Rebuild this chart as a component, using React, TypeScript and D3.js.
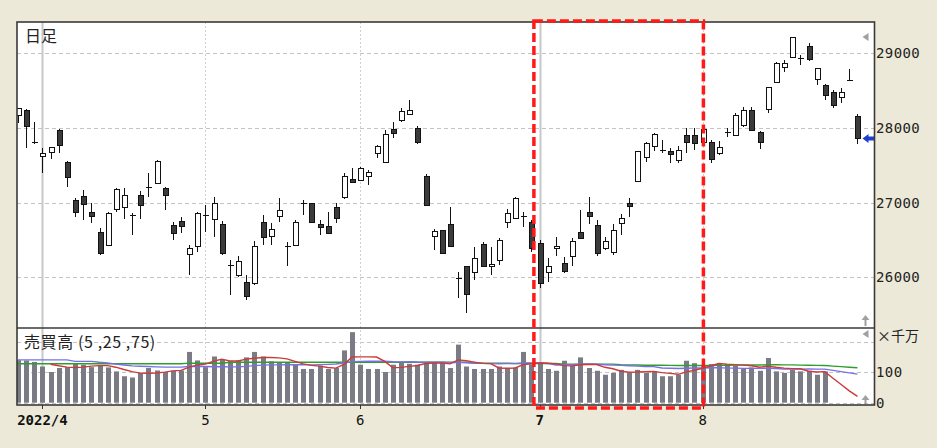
import React from "react";
import * as d3 from "d3";

// ---- data ----
const opens = [28170,28240,27810,27625,27680,27970,27540,27030,27095,26880,26610,26435,26910,26940,26830,27105,27215,27265,27195,26700,26755,26315,26425,26840,26780,26710,26170,26025,25940,25920,26745,26555,26820,26425,26435,27000,27000,26715,26690,26945,27080,27315,27305,27350,27660,27540,27985,28100,28185,28000,27360,26555,26635,26715,25985,26155,26075,26445,26145,26235,26745,26790,26815,26745,26455,26075,26390,26195,26290,26610,26880,26700,26390,26335,26725,26990,27295,27615,27765,27710,27690,27570,27905,27905,27815,27810,27660,27935,27905,28040,28240,27950,28250,28610,28820,28945,28935,29100,28650,28575,28485,28410,28645,28165];
const highs = [28270,28250,28080,27730,27745,27990,27560,27065,27170,27000,26660,26880,27195,27195,26860,27150,27400,27570,27210,26745,26805,26435,26880,26970,27080,26750,26235,26285,26030,26480,26835,26725,27060,26470,26770,27035,27000,26770,26880,27000,27400,27460,27480,27440,27775,27975,28085,28265,28375,28030,27390,26645,26635,26945,26065,26155,26405,26475,26405,26525,26910,27080,26880,26770,26500,26255,26545,26275,26525,26895,27070,26770,26535,26715,26850,27060,27685,27815,27935,27840,27730,27760,28005,27995,28000,27840,27825,27995,28200,28275,28275,27965,28555,28890,28910,29220,28975,29135,28805,28590,28510,28530,28785,28185];
const lows = [28070,27730,27790,27400,27580,27660,27210,26810,26770,26730,26300,26435,26880,26780,26570,26780,27075,27250,26900,26500,26590,26030,26345,26610,26535,26300,25765,26010,25700,25900,26435,26435,26745,26145,26435,26835,26745,26570,26590,26725,27050,27260,27290,27240,27595,27530,27870,28085,28175,27785,26960,26360,26320,26425,25720,25520,25965,26150,26030,26165,26655,26790,26680,26345,25855,25940,26285,26055,26145,26525,26715,26290,26365,26300,26565,26805,27295,27550,27690,27670,27535,27530,27660,27705,27800,27530,27640,27875,27905,28015,27965,27715,28195,28600,28755,28935,28845,28900,28575,28375,28265,28340,28640,27785];
const closes = [28270,28020,27800,27665,27745,27770,27340,26880,26980,26825,26320,26855,27180,27105,26820,26970,27205,27560,27100,26590,26690,26390,26860,26830,27000,26325,26165,26220,25750,26425,26545,26650,26900,26420,26735,27000,26745,26670,26590,26790,27360,27280,27460,27415,27760,27920,27930,28230,28240,27810,26970,26620,26325,26425,25980,25775,26255,26155,26180,26500,26860,27060,26810,26390,25920,26155,26425,26090,26485,26525,26815,26325,26485,26635,26790,26960,27685,27795,27920,27700,27650,27705,27810,27795,27990,27585,27740,27940,28175,28240,27975,27815,28545,28875,28875,29215,28930,28920,28800,28440,28310,28475,28640,27860];
const volumes = [140,139,134,119,101,114,117,128,125,117,123,116,103,87,83,98,114,106,101,105,106,167,139,117,152,141,136,139,149,167,152,136,133,133,125,111,111,122,111,114,172,232,125,111,111,101,125,133,128,125,133,133,133,114,191,119,111,111,111,119,114,116,167,125,130,111,105,138,122,149,114,105,92,98,108,98,108,98,103,87,87,92,138,130,120,127,130,127,122,112,116,105,147,103,98,108,103,105,92,103];
const ma25Early = [141,141,141,141,141,141,141,136,136,136,133,131,127,124,121,120,119,118,117,117,117,119,120,119];
const ma75Early = [128,128,128,128,128,128,128,128,128,128,128,128,128,128,128,128,128,128,128,128,128,130,130,130,130,130,133,133,133,133,133,133,133,133,133,133,133,133,133,133,133,133,133,133,133,133,133,133,133,133,133,133,133,133,133,133,130,130,130,130,130,129,129,129,129,129,129,127,127,127,127,127,127,127];
const priceTicks = [26000, 27000, 28000, 29000];
const priceTickLabels = ["26000", "27000", "28000", "29000"];
const volumeGrid = [0, 100, 200];
const volumeTickLabels = ["0", "100"];
const volumeTickValues = [0, 100];
const monthLabels = ["2022/4", "5", "6", "7", "8"];
const monthStartIdx = [3, 23, 42, 64, 84];
const quarterStart = [true, false, false, true, false];
const highlightRange = [63.3, 84.1];

// ---- layout ----
const W = 937, H = 448;
const L = 17, R = 874.5, T = 22, MID = 328, B = 405;

export default function App() {
  const n = opens.length;
  const x = d3.scaleLinear().domain([0, 103]).range([18, 857.45]);
  const y = d3.scaleLinear().domain([25321, 29419]).range([MID, T]);
  const yv = d3.scaleLinear().domain([0, 245.7]).range([402.7, MID]);

  const vol = (i: number) => (i >= 0 && i < volumes.length ? volumes[i] : 0);
  const ma = (w: number, i: number) => d3.sum(d3.range(i - w + 1, i + 1), vol) / w;

  const red: [number, number][] = [];
  const blue: [number, number][] = [];
  const green: [number, number][] = [];
  for (let i = 0; i < n; i++) {
    if (i >= 4) red.push([x(i), yv(ma(5, i))]);
    blue.push([x(i), yv(i < 24 ? ma25Early[i] : ma(25, i))]);
    green.push([x(i), yv(i < 74 ? ma75Early[i] : ma(75, i))]);
  }
  const line = d3.line();

  const px = (v: number) => Math.round(v) + 0.5;
  const lastY = y(closes[n - 1]);
  const arrowPath = `M${R - 12},${lastY} L${R - 6},${lastY - 4.5} L${R - 6},${lastY - 2} L${R},${lastY - 2} L${R},${lastY + 2} L${R - 6},${lastY + 2} L${R - 6},${lastY + 4.5} Z`;

  const mono = "'DejaVu Sans Mono', monospace";
  const cjk = "'Noto Sans CJK JP', sans-serif";

  return (
    <svg width={W} height={H} style={{ position: "absolute", left: 0, top: 0 }}>
      <defs>
        <clipPath id="plotClip">
          <rect x={L} y={T} width={R - L} height={B - T} />
        </clipPath>
      </defs>
      <rect x={0} y={0} width={W} height={H} fill="#ECE9D8" />
      <rect x={L} y={T} width={R - L} height={B - T} fill="#ffffff" />

      {/* horizontal grid */}
      {priceTicks.map((p) => (
        <line key={"pg" + p} x1={L} x2={R} y1={px(y(p))} y2={px(y(p))} stroke="#c4c4c4" strokeDasharray="4,3" />
      ))}
      {volumeGrid.map((v) => (
        <line key={"vg" + v} x1={L} x2={R} y1={px(yv(v))} y2={px(yv(v))} stroke="#c4c4c4" strokeDasharray="4,3" />
      ))}
      {/* month lines */}
      {monthStartIdx.map((m, k) => (
        <line key={"ml" + k} x1={px(x(m))} x2={px(x(m))} y1={T} y2={B}
          stroke={quarterStart[k] ? "#c8c8c8" : "#cfcfcf"}
          strokeWidth={quarterStart[k] ? 2 : 1}
          strokeDasharray={quarterStart[k] ? undefined : "2,2"} />
      ))}

      <g clipPath="url(#plotClip)">
        {/* volume bars */}
        {volumes.map((v, i) => (
          <rect key={"v" + i} x={Math.round(x(i)) - 2} y={yv(v)} width={5} height={yv(0) - yv(v)} fill="#7b7b86" />
        ))}
        <path d={line(green) || ""} fill="none" stroke="#2f9e2f" strokeWidth={1.4} />
        <path d={line(blue) || ""} fill="none" stroke="#7a70e6" strokeWidth={1.4} />
        <path d={line(red) || ""} fill="none" stroke="#cc3a3a" strokeWidth={1.4} />

        {/* candles */}
        {opens.map((o, i) => {
          const c = closes[i];
          const cx = px(x(i));
          const top = y(Math.max(o, c));
          const bot = y(Math.min(o, c));
          const up = c >= o;
          const doji = Math.abs(o - c) < 15;
          return (
            <g key={"c" + i} shapeRendering="crispEdges">
              <line x1={cx} x2={cx} y1={Math.round(y(highs[i]))} y2={Math.round(y(lows[i]))} stroke="#111" strokeWidth={1} />
              {doji ? (
                <line x1={cx - 3} x2={cx + 3} y1={px(top)} y2={px(top)} stroke="#111" strokeWidth={1.2} />
              ) : (
                <rect x={cx - 2.5} y={Math.round(top) + 0.5} width={5} height={Math.max(1, Math.round(bot) - Math.round(top))}
                  fill={up ? "#ffffff" : "#3b3b3b"} stroke="#111" strokeWidth={1} />
              )}
            </g>
          );
        })}
      </g>

      {/* scroll markers */}
      <path d={`M${R - 12},${T + 15} L${R - 6},${T + 11} L${R - 6},${T + 19} Z`} fill="#a0a0a0" />
      <path d={`M${R - 9},${MID - 13} L${R - 5},${MID - 8} L${R - 13},${MID - 8} Z M${R - 10},${MID - 8} h2 v6 h-2 Z`} fill="#a0a0a0" />
      <path d={`M${R - 12},${MID + 6} L${R - 6},${MID + 2} L${R - 6},${MID + 10} Z`} fill="#a0a0a0" />
      <path d={`M${R - 9},${B - 10} L${R - 5},${B - 5} L${R - 13},${B - 5} Z M${R - 10},${B - 5} h2 v4 h-2 Z`} fill="#a0a0a0" />

      {/* last price arrow */}
      <path d={arrowPath} fill="#1c3fd0" />

      {/* frame */}
      <rect x={L} y={T} width={R - L} height={B - T} fill="none" stroke="#3a3a3a" strokeWidth={1.6} />
      <line x1={L} x2={R} y1={MID} y2={MID} stroke="#3a3a3a" strokeWidth={1.4} />

      {/* month ticks + labels */}
      {monthStartIdx.map((m, k) => (
        <g key={"mt" + k}>
          <line x1={px(x(m))} x2={px(x(m))} y1={B} y2={B + 4} stroke="#333" />
          <text x={x(m)} y={425} textAnchor="middle" fontFamily={mono} fontSize={14}
            fontWeight={quarterStart[k] ? "bold" : "normal"} fill="#111">{monthLabels[k]}</text>
        </g>
      ))}

      {/* price labels */}
      {priceTicks.map((p, k) => (
        <text key={"pl" + p} x={876} y={y(p) + 5} fontFamily={mono} fontSize={14} fill="#222" letterSpacing={0.4}>{priceTickLabels[k]}</text>
      ))}
      {/* volume labels */}
      <text x={877} y={341} fontFamily={cjk} fontSize={14} fill="#222">×千万</text>
      {volumeTickValues.map((v, k) => (
        <text key={"vl" + v} x={876} y={yv(v) + 5} fontFamily={mono} fontSize={14} fill="#222" letterSpacing={0.4}>{volumeTickLabels[k]}</text>
      ))}

      {/* titles */}
      <text x={25} y={42} fontFamily={cjk} fontSize={16} fill="#222">日足</text>
      <text x={24} y={348} fontFamily={cjk} fontSize={16} fill="#222" letterSpacing={0.6}>売買高 (5 ,25 ,75)</text>

      {/* highlight rectangle */}
      <rect x={x(highlightRange[0])} y={T - 1} width={x(highlightRange[1]) - x(highlightRange[0])} height={B + 3 - (T - 1)}
        fill="none" stroke="#ff1a1a" strokeWidth={3.5} strokeDasharray="9,4" />
    </svg>
  );
}
